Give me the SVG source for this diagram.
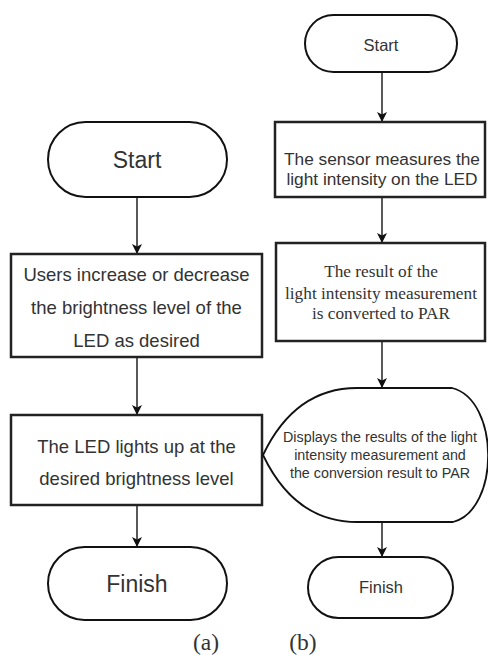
<svg xmlns="http://www.w3.org/2000/svg" width="488" height="655" viewBox="0 0 488 655">
<defs>
<style>
.term{fill:#fff;stroke:#111;stroke-width:2}
.box{fill:#fff;stroke:#222;stroke-width:2.5}
.disp{fill:#fff;stroke:#111;stroke-width:1.8}
.t{font-family:"Liberation Sans",Arial,sans-serif;fill:#333;text-anchor:middle}
.s{font-family:"Liberation Serif","Times New Roman",serif;fill:#333;text-anchor:middle}
.edge{stroke:#222;stroke-width:1.5;fill:none;marker-end:url(#arr)}
</style>
<marker id="arr" markerUnits="userSpaceOnUse" markerWidth="10" markerHeight="10" refX="10" refY="5" orient="auto">
<path d="M0,0 L10,5 L0,10 L2.5,5 z" fill="#111"/>
</marker>
</defs>
<rect width="488" height="655" fill="#fff"/>
<g id="connectors">
<line class="edge" x1="137" y1="197" x2="137" y2="254"/>
<line class="edge" x1="137" y1="357" x2="137" y2="415"/>
<line class="edge" x1="137" y1="505" x2="137" y2="547"/>
<line class="edge" x1="382" y1="72" x2="382" y2="122"/>
<line class="edge" x1="382" y1="197" x2="382" y2="243"/>
<line class="edge" x1="382" y1="341" x2="382" y2="388"/>
<line class="edge" x1="382" y1="522" x2="382" y2="557"/>
</g>
<g id="a-start">
<rect class="term" x="48" y="122" width="179" height="75" rx="37.5" ry="37.5"/>
<text class="t" x="137" y="168" font-size="23">Start</text>
</g>
<g id="a-step1">
<rect class="box" x="11" y="254" width="251" height="103"/>
<text class="t" x="136.5" y="281" font-size="18.5">Users increase or decrease</text>
<text class="t" x="136.5" y="314" font-size="18.5">the brightness level of the</text>
<text class="t" x="136.5" y="347" font-size="18.5">LED as desired</text>
</g>
<g id="a-step2">
<rect class="box" x="11" y="415" width="251" height="90"/>
<text class="t" x="136.5" y="453" font-size="18.5">The LED lights up at the</text>
<text class="t" x="136.5" y="485" font-size="18.5">desired brightness level</text>
</g>
<g id="a-finish">
<rect class="term" x="48" y="547" width="179" height="73" rx="36.5" ry="36.5"/>
<text class="t" x="137" y="592" font-size="23">Finish</text>
</g>
<g id="b-start">
<rect class="term" x="305" y="15" width="152" height="57" rx="28.5" ry="28.5"/>
<text class="t" x="381" y="51" font-size="16.5">Start</text>
</g>
<g id="b-step1">
<rect class="box" x="275" y="122" width="210" height="75"/>
<text class="t" x="382" y="165" font-size="17.3">The sensor measures the</text>
<text class="t" x="382" y="185" font-size="17.3">light intensity on the LED</text>
</g>
<g id="b-step2">
<rect class="box" x="276" y="243" width="209" height="98"/>
<text class="s" x="381" y="277" font-size="17.3">The result of the</text>
<text class="s" x="381" y="299" font-size="17.3">light intensity measurement</text>
<text class="s" x="381" y="319" font-size="17.3">is converted to PAR</text>
</g>
<g id="b-display">
<path class="disp" d="M357,388 L452,388 C500,400 500,510 453,522 L357,522 Q295,522 263,455 Q295,388 357,388 Z"/>
<text class="t" x="380" y="442" font-size="14.3">Displays the results of the light</text>
<text class="t" x="380" y="460" font-size="14.3">intensity measurement and</text>
<text class="t" x="380" y="478" font-size="14.3">the conversion result to PAR</text>
</g>
<g id="b-finish">
<rect class="term" x="308" y="557" width="145" height="61" rx="30.5" ry="30.5"/>
<text class="t" x="381" y="593" font-size="16.5">Finish</text>
</g>
<text class="s" x="206" y="650" font-size="23.5">(a)</text>
<text class="s" x="303" y="650" font-size="23.5">(b)</text>
</svg>
